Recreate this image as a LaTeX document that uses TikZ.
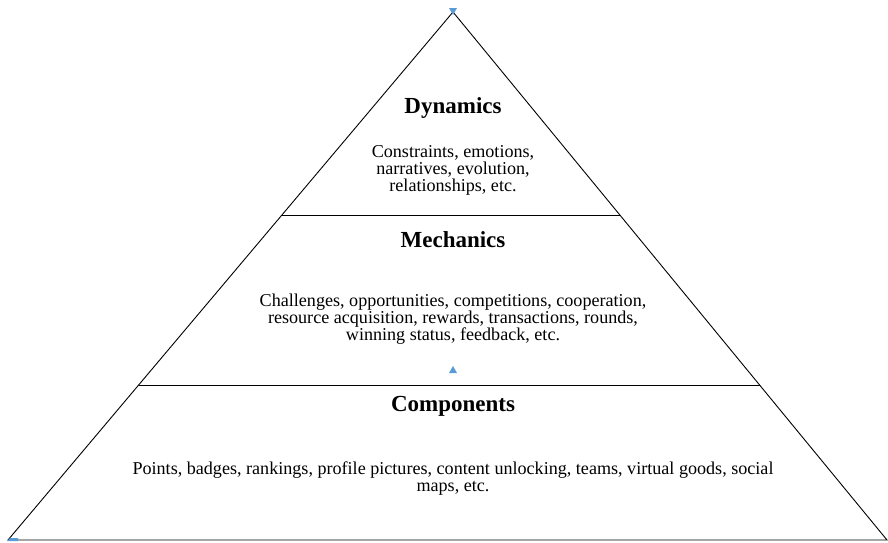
\documentclass[tikz,border=0pt]{standalone}
\usepackage{fontspec}
\setmainfont{Liberation Serif}
\usetikzlibrary{calc}
\definecolor{handleblue}{HTML}{5B9BD5}
\begin{document}
\begin{tikzpicture}[x=1pt,y=-1pt,
  edge/.style={draw=black,line width=0.9pt},
  heading/.style={font=\fontsize{23}{23}\selectfont\bfseries,anchor=base,inner sep=0pt},
  body/.style={font=\fontsize{18.1}{17}\selectfont,align=center,anchor=base,inner sep=0pt},
  handle/.style={fill=handleblue,draw=none}]
  \useasboundingbox (0,0) rectangle (888,542);
  % pyramid outline
  \coordinate (apex) at (453,12);
  \coordinate (bl) at (8,540);
  \coordinate (br) at (887,540);
  \draw[edge] (bl) -- (apex) -- (br) -- cycle;
  % level separators
  \coordinate (l1) at ($(bl)!0.6155!(apex)$);
  \coordinate (r1) at ($(br)!0.6155!(apex)$);
  \coordinate (l2) at ($(bl)!0.2936!(apex)$);
  \coordinate (r2) at ($(br)!0.2936!(apex)$);
  \draw[edge] (l1) -- (r1);
  \draw[edge] (l2) -- (r2);
  % top level (body nodes sit on the baseline of their last line)
  \node[heading] (dyn) at (453,113) {Dynamics};
  \node[body] (dyntext) at (453,191) {Constraints, emotions,\\narratives, evolution,\\relationships, etc.};
  % middle level
  \node[heading] (mech) at (453,247) {Mechanics};
  \node[body] (mechtext) at (453,340) {Challenges, opportunities, competitions, cooperation,\\resource acquisition, rewards, transactions, rounds,\\winning status, feedback, etc.};
  % bottom level
  \node[heading] (comp) at (453,411) {Components};
  \node[body] (comptext) at (453,491) {Points, badges, rankings, profile pictures, content unlocking, teams, virtual goods, social\\maps, etc.};
  % selection handles
  \fill[handle] (449,8) -- (457,8) -- (453,15) -- cycle;
  \fill[handle] (449,373) -- (457,373) -- (453,366) -- cycle;
  \fill[handle] (7,541) -- (10,538) -- (18,538) -- (18,541) -- cycle;
\end{tikzpicture}
\end{document}
